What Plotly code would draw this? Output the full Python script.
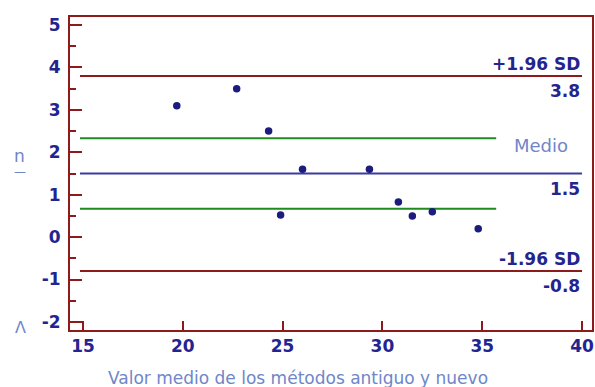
import plotly.graph_objects as go

# Data (Bland-Altman)
mean_values = [19.7, 22.7, 24.3, 26.0, 24.9, 29.35, 30.8, 31.5, 32.5, 34.8]
differences = [3.1, 3.5, 2.5, 1.6, 0.52, 1.6, 0.83, 0.5, 0.6, 0.2]
bias = 1.5
upper_loa = 3.8
lower_loa = -0.8
ci_upper = 2.33
ci_lower = 0.67
loa_x = [14.85, 40.0]
ci_x = [14.85, 35.7]
x_ticks = [15, 20, 25, 30, 35, 40]
y_ticks = [-2, -1, 0, 1, 2, 3, 4, 5]

RED = "#8e1b1b"
GREEN = "#1f8a1f"
BLUE = "#3b3ba0"
NAVY = "#24248f"
LIGHT = "#6f86c8"
FONT = "DejaVu Sans"

fig = go.Figure()
for yv, xs, col in [(upper_loa, loa_x, RED), (lower_loa, loa_x, RED),
                    (ci_upper, ci_x, GREEN), (ci_lower, ci_x, GREEN),
                    (bias, loa_x, BLUE)]:
    fig.add_trace(go.Scatter(x=xs, y=[yv, yv], mode="lines",
                             line=dict(color=col, width=2), hoverinfo="skip"))

fig.add_trace(go.Scatter(x=mean_values, y=differences, mode="markers",
                         marker=dict(color="#1c1c7c", size=7.5)))

ann_font = dict(family=FONT, size=17, color=NAVY, weight="bold")
anns = [
    dict(x=40, y=upper_loa, text="+1.96 SD", xanchor="right", yanchor="bottom", yshift=0),
    dict(x=40, y=upper_loa, text=f"{upper_loa:.1f}", xanchor="right", yanchor="top", yshift=-3),
    dict(x=40, y=bias, text=f"{bias:.1f}", xanchor="right", yanchor="top", yshift=-3),
    dict(x=40, y=lower_loa, text="-1.96 SD", xanchor="right", yanchor="bottom", yshift=0),
    dict(x=40, y=lower_loa, text=f"{lower_loa:.1f}", xanchor="right", yanchor="top", yshift=-3),
]
for a in anns:
    fig.add_annotation(showarrow=False, font=ann_font, xref="x", yref="y", **a)

fig.add_annotation(x=39.4, y=2.17, text="Medio", showarrow=False, xanchor="right",
                   yanchor="middle", font=dict(family=FONT, size=18, color=LIGHT))

# x axis title
fig.add_annotation(x=0.437, y=-0.115, xref="paper", yref="paper",
                   text="Valor medio de los métodos antiguo y nuevo",
                   showarrow=False, xanchor="center", yanchor="top",
                   font=dict(family=FONT, size=17, color=LIGHT))

tick_font = dict(family=FONT, size=17, color=NAVY, weight="bold")
fig.update_layout(
    width=595, height=387,
    margin=dict(l=70, r=3, t=17, b=57),
    plot_bgcolor="white", paper_bgcolor="white",
    showlegend=False,
    font=dict(family=FONT, size=15, color=NAVY),
)
fig.update_xaxes(
    range=[14.35, 40.5], tickvals=x_ticks, ticktext=[str(v) for v in x_ticks],
    ticks="inside", ticklen=9, tickwidth=2,
    tickcolor=RED, showline=True, linecolor=RED, linewidth=2, mirror=True,
    showgrid=False, zeroline=False, tickfont=tick_font, automargin=False,
)
fig.update_yaxes(
    range=[-2.19, 5.19], tickvals=y_ticks, ticktext=[str(v) for v in y_ticks],
    ticks="inside", ticklen=12, tickwidth=2,
    tickcolor=RED, showline=True, linecolor=RED, linewidth=2, mirror=True,
    showgrid=False, zeroline=False, tickfont=tick_font, automargin=False,
    ticklabelstandoff=4,
    minor=dict(dtick=0.5, tick0=0.5, ticks="inside", ticklen=6, tickwidth=2,
               tickcolor=RED, showgrid=False),
)

# garbled y-axis title glyphs
fig.add_annotation(x=-0.096, y=0.555, xref="paper", yref="paper", text="n",
                   xanchor="center", yanchor="middle",
                   showarrow=False, font=dict(family=FONT, size=17, color=LIGHT))
fig.add_annotation(x=-0.096, y=0.505, xref="paper", yref="paper", text="—",
                   xanchor="center", yanchor="middle",
                   showarrow=False, font=dict(family=FONT, size=12, color=LIGHT))
fig.add_annotation(x=-0.094, y=0.008, xref="paper", yref="paper", text="Λ",
                   xanchor="center", yanchor="middle",
                   showarrow=False, font=dict(family=FONT, size=16, color=LIGHT))

fig.write_html("out.html", config={"displayModeBar": False},
               post_script="document.body.style.margin='0';document.body.style.overflow='hidden';")
